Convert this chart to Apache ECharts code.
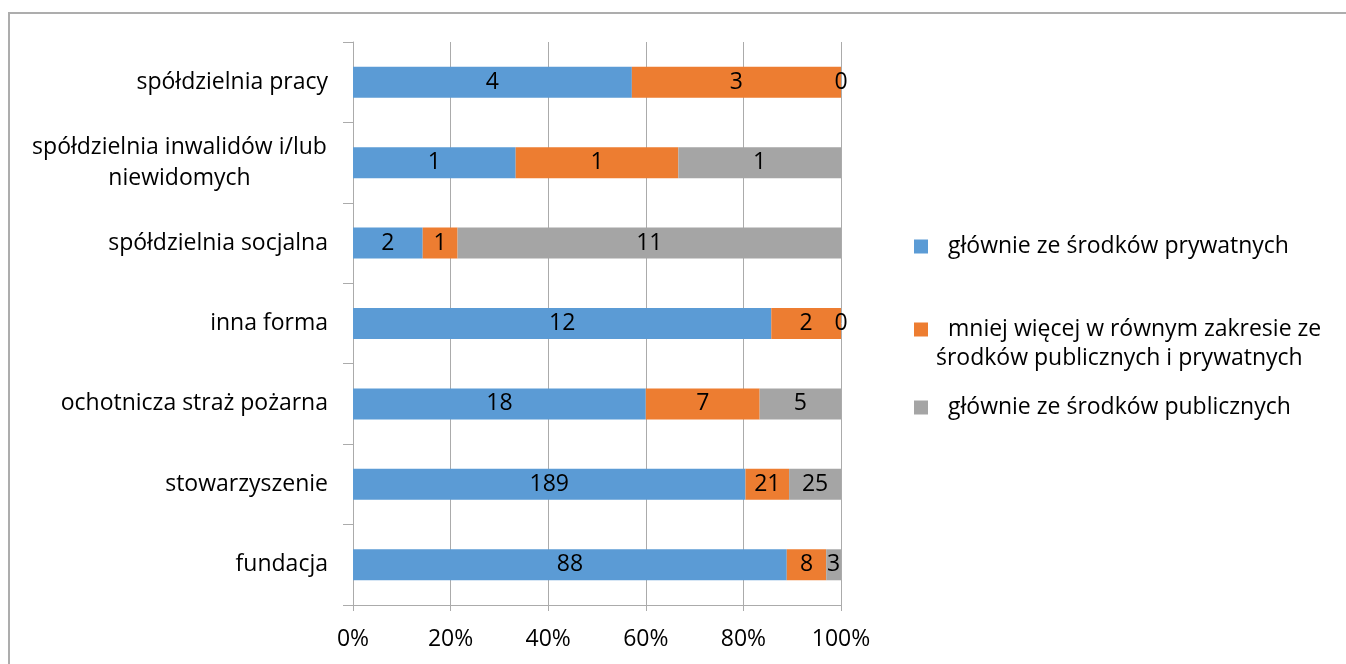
<!DOCTYPE html>
<html>
<head>
<meta charset="utf-8">
<script src="https://cdn.jsdelivr.net/npm/echarts@6/dist/echarts.min.js"></script>
<style>
html,body{margin:0;padding:0;background:#fff;overflow:hidden;}
#chart{position:absolute;left:0;top:0;width:1346px;height:664px;}
#frame{position:absolute;left:8px;top:12px;width:1400px;height:700px;border-top:2px solid #ADADAD;border-left:2px solid #ADADAD;pointer-events:none;}
</style>
</head>
<body>
<div id="chart"></div>
<div id="frame"></div>
<script>
// categories, top to bottom
const categories = [
  'spółdzielnia pracy',
  'spółdzielnia inwalidów i/lub niewidomych',
  'spółdzielnia socjalna',
  'inna forma',
  'ochotnicza straż pożarna',
  'stowarzyszenie',
  'fundacja'
];
const seriesNames = [
  'głównie ze środków prywatnych',
  'mniej więcej w równym zakresie ze środków publicznych i prywatnych',
  'głównie ze środków publicznych'
];
const privateVals = [4, 1, 2, 12, 18, 189, 88];
const mixedVals   = [3, 1, 1, 2, 7, 21, 8];
const publicVals  = [0, 1, 11, 0, 5, 25, 3];
const xTicks = [0, 20, 40, 60, 80, 100];

const raw = [privateVals, mixedVals, publicVals];
const totals = categories.map((c, i) => privateVals[i] + mixedVals[i] + publicVals[i]);
const colors = ['#5B9BD5', '#ED7D31', '#A5A5A5'];
const FONT = 'Open Sans';
const FS = 23;

const line1 = 'spółdzielnia inwalidów i/lub';
const line2 = 'niewidomych';
const ctx = document.createElement('canvas').getContext('2d');
ctx.font = FS + 'px "' + FONT + '"';
const blockW = Math.ceil(ctx.measureText(line1).width) + 2;

const chart = echarts.init(document.getElementById('chart'));
const series = raw.map((vals, s) => ({
  name: seriesNames[s],
  type: 'bar',
  stack: 'total',
  barWidth: 31,
  itemStyle: { color: colors[s] },
  label: {
    show: true,
    position: 'inside',
    color: '#000',
    fontFamily: FONT,
    fontSize: FS,
    formatter: p => String(vals[p.dataIndex])
  },
  data: vals.map((v, i) => v / totals[i] * 100)
}));

const axisColor = '#ABABAB';
const legendBase = (idx, top) => ({
  data: [seriesNames[idx]],
  left: 914,
  top: top,
  padding: 0,
  orient: 'vertical',
  icon: 'rect',
  itemWidth: 14,
  itemHeight: 14,
  selectedMode: false,
  textStyle: { fontFamily: FONT, fontSize: FS, color: '#000', padding: [0, 0, 0, 15] }
});

chart.setOption({
  animation: false,
  grid: { left: 353, right: 505, top: 42, bottom: 59, containLabel: false },
  legend: [
    legendBase(0, 235),
    Object.assign(legendBase(1, 318), { formatter: () => 'mniej więcej w równym zakresie ze' }),
    legendBase(2, 396)
  ],
  graphic: [{
    type: 'text',
    left: 936,
    top: 347,
    style: { text: 'środków publicznych i prywatnych', fontFamily: FONT, fontSize: FS, fill: '#000' }
  }],
  xAxis: {
    type: 'value',
    min: 0,
    max: 100,
    interval: 20,
    axisLine: { show: true, lineStyle: { color: axisColor, width: 1 } },
    axisTick: { show: true, length: 6, lineStyle: { color: axisColor } },
    splitLine: { show: true, lineStyle: { color: axisColor, width: 1 } },
    axisLabel: {
      margin: 23,
      fontFamily: FONT,
      fontSize: FS,
      color: '#000',
      customValues: xTicks,
      formatter: v => v + '%'
    }
  },
  yAxis: {
    type: 'category',
    inverse: true,
    data: categories,
    axisLine: { show: true, lineStyle: { color: axisColor, width: 1 } },
    axisTick: { show: true, length: 10, lineStyle: { color: axisColor } },
    axisLabel: {
      margin: 25,
      fontFamily: FONT,
      fontSize: FS,
      color: '#000',
      formatter: v => v === 'spółdzielnia inwalidów i/lub niewidomych'
        ? '{c|' + line1 + '}\n{c|' + line2 + '}'
        : v,
      rich: {
        c: { width: blockW, align: 'center', fontFamily: FONT, fontSize: FS, color: '#000', lineHeight: 31 }
      }
    }
  },
  series: series
});
</script>
</body>
</html>
